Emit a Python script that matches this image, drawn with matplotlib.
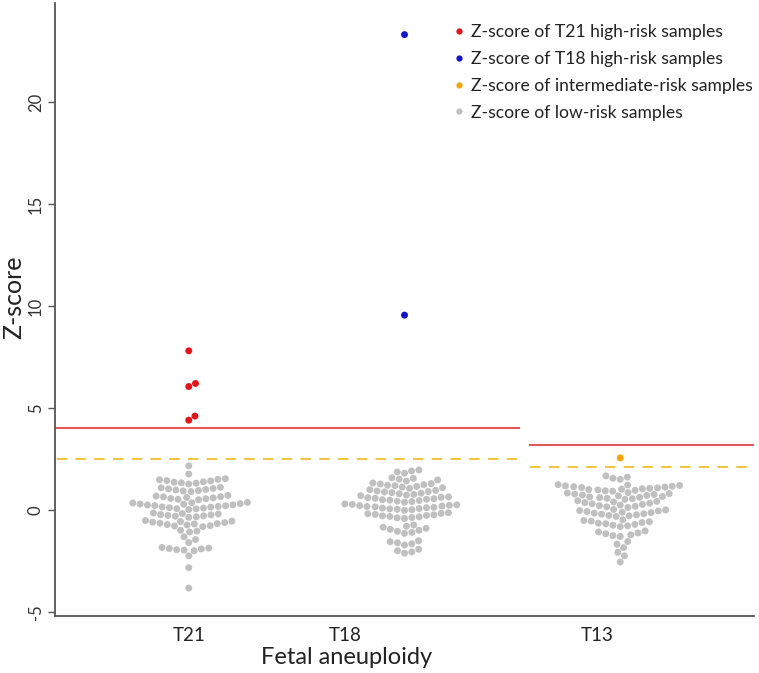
import numpy as np
import matplotlib
matplotlib.use("Agg")
import matplotlib.pyplot as plt
from matplotlib.lines import Line2D

# ---------------- data ----------------
categories = ["T21", "T18", "T13"]
group_pos = [1, 2, 3]
tick_pos = [1.0, 1.724, 2.892]

t21_low = [2.16,
           1.76,
           1.27, 1.31, 1.33, 1.36, 1.38, 1.42, 1.44, 1.48, 1.50, 1.53,
           0.90, 0.93, 0.95, 0.98, 1.00, 1.03, 1.05, 1.08, 1.11,
           0.50, 0.52, 0.55, 0.56, 0.59, 0.61, 0.64, 0.65, 0.68, 0.71,
           0.02, 0.05, 0.06, 0.09, 0.11, 0.14, 0.15, 0.17, 0.20, 0.21, 0.24, 0.25, 0.28, 0.29, 0.31, 0.34, 0.35, 0.37,
           -0.36, -0.34, -0.31, -0.29, -0.27, -0.24, -0.23, -0.20, -0.18, -0.15,
           -0.82, -0.79, -0.77, -0.74, -0.72, -0.69, -0.67, -0.65, -0.62, -0.60, -0.57, -0.55, -0.52,
           -1.08, -1.04, -1.00,
           -1.45, -1.32,
           -1.60,
           -2.00, -1.97, -1.95, -1.91, -1.89, -1.87, -1.84,
           -2.25, -2.83, -3.83]
t21_high = [7.8, 6.05, 6.2, 4.4, 4.6]

t18_low = [1.80, 1.86, 1.91, 1.96,
           1.42, 1.47, 1.51, 1.55, 1.58,
           1.06, 1.09, 1.12, 1.15, 1.19, 1.21, 1.24, 1.27, 1.29, 1.32,
           0.70, 0.73, 0.76, 0.79, 0.82, 0.85, 0.88, 0.90, 0.93, 0.96, 0.99,
           0.38, 0.41, 0.43, 0.46, 0.48, 0.50, 0.52, 0.55, 0.57, 0.60, 0.62, 0.64,
           -0.02, 0.01, 0.03, 0.05, 0.07, 0.09, 0.11, 0.13, 0.15, 0.17, 0.19, 0.21, 0.23, 0.25, 0.27, 0.29,
           -0.42, -0.39, -0.37, -0.34, -0.32, -0.29, -0.27, -0.24, -0.22, -0.19, -0.17, -0.14,
           -1.15, -1.10, -1.05, -1.00, -0.95, -0.90, -0.85, -0.80, -0.74,
           -1.72, -1.66, -1.61, -1.56, -1.51,
           -2.12, -2.06, -2.00, -1.93]
t18_high = [23.3, 9.55]

t13_low = [1.50, 1.55, 1.61, 1.67,
           0.92, 0.94, 0.96, 0.98, 1.00, 1.02, 1.04, 1.06, 1.08, 1.10, 1.12, 1.14, 1.16, 1.18, 1.20, 1.22, 1.24,
           0.52, 0.55, 0.57, 0.60, 0.62, 0.64, 0.66, 0.69, 0.71, 0.73, 0.76, 0.78, 0.80, 0.83, 0.85,
           0.12, 0.15, 0.18, 0.21, 0.24, 0.27, 0.30, 0.33, 0.36, 0.39, 0.42, 0.45,
           -0.32, -0.29, -0.27, -0.24, -0.21, -0.19, -0.16, -0.13, -0.11, -0.08, -0.05, -0.03, 0.00, 0.02,
           -0.82, -0.78, -0.75, -0.71, -0.68, -0.65, -0.62, -0.58, -0.55, -0.52, -0.48,
           -1.30, -1.26, -1.22, -1.17, -1.13, -1.08, -1.03,
           -1.85, -1.68, -1.55,
           -2.25, -2.08,
           -2.55]
t13_mid = [2.55]

# cut-offs
cut_high = [4.0, 3.2]
cut_mid = [2.5, 2.1]
cut_span = [(0.30, 2.53), (2.58, 3.70)]

legend_labels = ["Z-score of T21 high-risk samples",
                 "Z-score of T18 high-risk samples",
                 "Z-score of intermediate-risk samples",
                 "Z-score of low-risk samples"]

c_red = "#e4141b"
c_blue = "#1414c8"
c_orange = "#f5a30a"
c_grey = "#c0c0c0"
c_line_red = "#e2585a"
c_line_dash = "#f2c444"
c_axis = "#555555"

plt.rcParams['font.family'] = ['Lato', 'DejaVu Sans']

W, H = 759, 673
fig = plt.figure(figsize=(W / 100, H / 100), dpi=100)
ax = fig.add_axes([55 / W, (H - 616) / H, (754 - 55) / W, (616 - 3) / H])
ax.set_xlim(0.38, 3.62)
ax.set_ylim(-5.2, 24.85)

D_PX = 7.4  # swarm spacing in pixels


def swarm_x(values, center):
    vals = np.asarray(values, dtype=float)
    pts = ax.transData.transform(np.column_stack([np.full(len(vals), center), vals]))
    cx = pts[0, 0]
    ys = pts[:, 1]
    order = np.argsort(ys, kind="stable")
    placed = []
    xs_px = np.zeros(len(vals))
    d2 = D_PX * D_PX
    for i in order:
        y = ys[i]
        cands = [0.0]
        for (xo, yo) in placed:
            dy = y - yo
            if abs(dy) < D_PX:
                dx = np.sqrt(d2 - dy * dy)
                cands += [xo + dx, xo - dx]
        cands = sorted(cands, key=lambda c: (round(abs(c), 6), -c))
        for c in cands:
            ok = True
            for (xo, yo) in placed:
                if (c - xo) ** 2 + (y - yo) ** 2 < d2 - 1e-6:
                    ok = False
                    break
            if ok:
                xs_px[i] = c
                placed.append((c, y))
                break
    data = ax.transData.inverted().transform(np.column_stack([cx + xs_px, ys]))
    return data[:, 0]


groups = [
    (group_pos[0], t21_low, t21_high, c_red),
    (group_pos[1], t18_low, t18_high, c_blue),
    (group_pos[2], t13_low, t13_mid, c_orange),
]
MS = 25
for pos, low, special, col in groups:
    allv = list(low) + list(special)
    cols = [c_grey] * len(low) + [col] * len(special)
    xs = swarm_x(allv, pos)
    ax.scatter(xs, allv, s=MS, c=cols, linewidths=0, zorder=3)

for (x0, x1), hi, mid in zip(cut_span, cut_high, cut_mid):
    ax.plot([x0, x1], [hi, hi], color=c_line_red, lw=1.5, zorder=2)
    ax.plot([x0, x1], [mid, mid], color=c_line_dash, lw=1.5, ls=(0, (5, 4)), zorder=2)

for s in ["top", "right"]:
    ax.spines[s].set_visible(False)
for s in ["left", "bottom"]:
    ax.spines[s].set_color(c_axis)
    ax.spines[s].set_linewidth(1.3)

ax.set_yticks([-5, 0, 5, 10, 15, 20])
ax.set_yticklabels(["-5", "0", "5", "10", "15", "20"], rotation=90, va="center")
ax.tick_params(axis="y", length=5, width=1.0, color=c_axis, labelsize=12, labelcolor="#333333", pad=3)
ax.set_xticks(tick_pos)
ax.set_xticklabels(categories)
ax.tick_params(axis="x", length=0, labelsize=13.5, labelcolor="#222222", pad=8)
ax.set_xlabel("Fetal aneuploidy", fontsize=17, color="#222222")
ax.xaxis.set_label_coords((347 - 55) / (754 - 55), -0.05)
ax.set_ylabel("Z-score", fontsize=18, color="#222222")
ax.yaxis.set_label_coords(-0.042, 0.52)

handles = [Line2D([], [], ls="", marker="o", ms=4.5, mfc=c, mec="none")
           for c in [c_red, c_blue, c_orange, c_grey]]
leg = ax.legend(handles, legend_labels, loc="upper left",
                bbox_to_anchor=(454 / W, (H - 24) / H), bbox_transform=fig.transFigure,
                frameon=False, fontsize=12.6, handlelength=0.6, handletextpad=0.35,
                labelspacing=0.62, borderpad=0, borderaxespad=0)
for t in leg.get_texts():
    t.set_color("#222222")

fig.savefig("out.png", dpi=100)
